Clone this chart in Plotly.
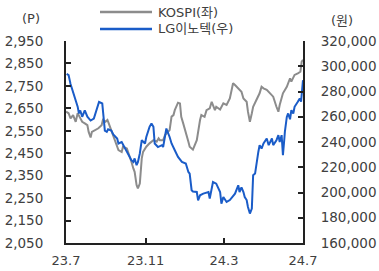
import plotly.graph_objects as go

kospi_dates = ["2023-07-01","2023-07-05","2023-07-08","2023-07-12","2023-07-16","2023-07-19","2023-07-22","2023-07-26","2023-07-30",
    "2023-08-03","2023-08-05","2023-08-08","2023-08-10","2023-08-15","2023-08-20","2023-08-25","2023-08-27","2023-08-31",
    "2023-09-03","2023-09-05","2023-09-08","2023-09-12","2023-09-17","2023-09-20","2023-09-25","2023-09-27",
    "2023-10-03","2023-10-08","2023-10-10","2023-10-13","2023-10-15","2023-10-18","2023-10-20","2023-10-23","2023-10-26","2023-10-28",
    "2023-11-02","2023-11-07","2023-11-13","2023-11-18","2023-11-21","2023-11-23","2023-11-28",
    "2023-12-01","2023-12-03","2023-12-08","2023-12-11","2023-12-14","2023-12-16","2023-12-19","2023-12-21","2023-12-24","2023-12-26","2023-12-29",
    "2024-01-03","2024-01-06","2024-01-08","2024-01-13","2024-01-19","2024-01-21","2024-01-24","2024-01-26","2024-01-31",
    "2024-02-03","2024-02-08","2024-02-11","2024-02-16","2024-02-18","2024-02-24","2024-02-29",
    "2024-03-05","2024-03-10","2024-03-15","2024-03-18","2024-03-23","2024-03-28","2024-03-31",
    "2024-04-05","2024-04-07","2024-04-10","2024-04-13","2024-04-15","2024-04-20","2024-04-25","2024-04-28",
    "2024-05-01","2024-05-06","2024-05-11","2024-05-16","2024-05-21","2024-05-24","2024-05-26","2024-05-31",
    "2024-06-06","2024-06-11","2024-06-13","2024-06-18","2024-06-23","2024-06-27","2024-06-29","2024-07-01"]
kospi_values = [2635,2628,2605,2620,2590,2628,2612,2590,2583,
    2575,2545,2520,2545,2553,2561,2575,2598,2590,
    2598,2583,2561,2523,2494,2464,2456,2479,
    2471,2434,2412,2382,2367,2308,2293,2315,2427,2456,
    2479,2494,2508,2501,2516,2508,2508,
    2531,2538,2553,2613,2620,2642,2665,2675,2672,2612,2583,
    2538,2501,2479,2466,2508,2553,2598,2620,2612,
    2642,2650,2679,2642,2657,2645,2672,
    2665,2694,2762,2754,2739,2724,2694,
    2679,2635,2590,2628,2657,2687,2717,2746,
    2739,2732,2717,2702,2657,2635,2665,2717,
    2746,2784,2769,2799,2806,2813,2858,2866]

lg_dates = ["2023-07-02","2023-07-05","2023-07-08","2023-07-11","2023-07-16","2023-07-19","2023-07-21","2023-07-23","2023-07-26","2023-07-30",
    "2023-08-03","2023-08-08","2023-08-13","2023-08-18","2023-08-21","2023-08-26","2023-08-28","2023-08-30",
    "2023-09-02","2023-09-04","2023-09-09","2023-09-12","2023-09-18","2023-09-20","2023-09-25","2023-09-30",
    "2023-10-05","2023-10-10","2023-10-13","2023-10-15","2023-10-18","2023-10-20","2023-10-23","2023-10-26","2023-10-31",
    "2023-11-02","2023-11-07","2023-11-10","2023-11-13","2023-11-15","2023-11-20","2023-11-26","2023-11-28",
    "2023-12-01","2023-12-03","2023-12-08","2023-12-11","2023-12-16","2023-12-21","2023-12-27",
    "2024-01-02","2024-01-06","2024-01-08","2024-01-11","2024-01-13","2024-01-19","2024-01-21","2024-01-24","2024-01-29",
    "2024-02-06","2024-02-08","2024-02-13","2024-02-18","2024-02-24","2024-02-26","2024-02-29",
    "2024-03-05","2024-03-10","2024-03-18","2024-03-23","2024-03-25","2024-03-28","2024-03-31",
    "2024-04-02","2024-04-05","2024-04-07","2024-04-10","2024-04-13","2024-04-15","2024-04-18","2024-04-20","2024-04-23","2024-04-25","2024-04-28",
    "2024-05-01","2024-05-06","2024-05-09","2024-05-14","2024-05-16","2024-05-21","2024-05-24","2024-05-26","2024-05-29","2024-05-31",
    "2024-06-02","2024-06-03","2024-06-06","2024-06-08","2024-06-11","2024-06-13","2024-06-16","2024-06-18","2024-06-23","2024-06-26","2024-06-28","2024-06-30","2024-07-01"]
lg_values = [294000,293000,286000,281000,273000,268000,262600,265000,260000,265000,
    260000,257000,258600,268000,271800,270500,260000,249000,
    248000,250000,249000,246000,242800,238800,240000,234800,
    230000,225600,224200,227000,221600,224000,230900,241400,238800,
    244000,252000,254700,252000,238800,236000,237500,236000,
    245400,250700,244000,238800,233500,228200,224200,
    223000,216300,215000,201800,200800,200400,193800,197800,199100,
    200400,195200,208300,207000,200400,191200,196400,
    192500,194000,199100,205700,200400,204000,200400,
    196400,194000,188500,183300,187200,213700,215000,223000,232100,237500,234800,
    238800,242800,237500,242800,237500,241400,245400,240000,245400,229500,
    241400,248000,259900,262600,258000,265200,262600,267900,271800,274500,272000,281000,289000]

left_ticks = [2050,2150,2250,2350,2450,2550,2650,2750,2850,2950]
right_ticks = [160000,180000,200000,220000,240000,260000,280000,300000,320000]
x_tickvals = ["2023-07-01","2023-11-01","2024-03-01","2024-07-01"]
x_ticktext = ["23.7","23.11","24.3","24.7"]
legend_names = ["KOSPI(좌)","LG이노텍(우)"]

GRAY = "#8c8c8c"
BLUE = "#1a5cc8"
FONT = "DejaVu Sans, Noto Sans CJK KR, sans-serif"
TXT = "#404040"

fig = go.Figure()
fig.add_trace(go.Scatter(x=kospi_dates, y=kospi_values, mode="lines", name=legend_names[0],
                         line=dict(color=GRAY, width=2), yaxis="y", hoverinfo="skip"))
fig.add_trace(go.Scatter(x=lg_dates, y=lg_values, mode="lines", name=legend_names[1],
                         line=dict(color=BLUE, width=2), yaxis="y2", hoverinfo="skip"))

W, H = 379, 271
L, R, T, B = 66, 76, 41, 28
pw, ph = W - L - R, H - T - B

def px(xp):
    return (xp - L) / pw

def py(yp):
    return (H - B - yp) / ph

fig.update_layout(
    width=W, height=H,
    margin=dict(l=L, r=R, t=T, b=B, pad=0, autoexpand=False),
    paper_bgcolor="white", plot_bgcolor="white",
    showlegend=False, hovermode=False,
    font=dict(family=FONT, size=13, color=TXT),
    xaxis=dict(type="date", range=["2023-07-01", "2024-07-01"],
               tickvals=x_tickvals, ticktext=x_ticktext, automargin=False,
               ticks="inside", ticklen=5, tickwidth=2, tickcolor="#222",
               showline=True, linecolor="#222", linewidth=2,
               showgrid=False, zeroline=False, ticklabelstandoff=4,
               tickfont=dict(size=13, color=TXT)),
    yaxis=dict(range=[2050, 2950], tickvals=left_ticks, tickformat=",", automargin=False,
               ticks="inside", ticklen=5, tickwidth=2, tickcolor="#222",
               showline=True, linecolor="#222", linewidth=2,
               showgrid=False, zeroline=False, ticklabelstandoff=18,
               tickfont=dict(size=13.5, color=TXT)),
    yaxis2=dict(range=[160000, 320000], tickvals=right_ticks, tickformat=",", automargin=False,
                overlaying="y", side="right",
                ticks="inside", ticklen=5, tickwidth=2, tickcolor="#222",
                showline=True, linecolor="#222", linewidth=2,
                showgrid=False, zeroline=False, ticklabelstandoff=13,
                tickfont=dict(size=13.5, color=TXT)),
)

# manual legend
for i, (name, col) in enumerate(zip(legend_names, [GRAY, BLUE])):
    ly = 12 + i * 17
    fig.add_shape(type="line", xref="paper", yref="paper",
                  x0=px(100), x1=px(152), y0=py(ly), y1=py(ly),
                  line=dict(color=col, width=2.5))
    fig.add_annotation(xref="paper", yref="paper", x=px(156), y=py(ly),
                       text=name, showarrow=False, xanchor="left", yanchor="middle",
                       font=dict(size=13, color=TXT))

fig.add_annotation(xref="paper", yref="paper", x=px(31), y=py(19), text="(P)",
                   showarrow=False, xanchor="center", yanchor="middle",
                   font=dict(size=13, color=TXT))
fig.add_annotation(xref="paper", yref="paper", x=px(342), y=py(21), text="(원)",
                   showarrow=False, xanchor="center", yanchor="middle",
                   font=dict(size=13, color=TXT))

fig.write_html("out.html", config={"displayModeBar": False, "staticPlot": True},
               post_script="document.body.style.margin='0px';document.body.style.overflow='hidden';")
